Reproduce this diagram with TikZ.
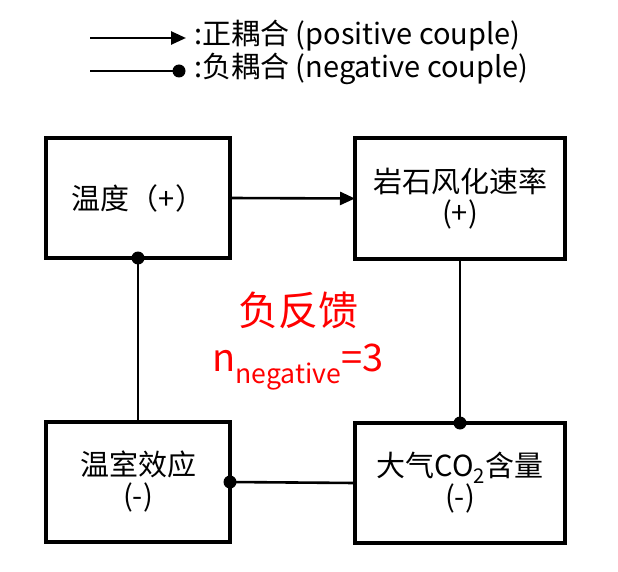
\documentclass[tikz,border=0pt]{standalone}
\usepackage{fontspec}
\setmainfont{Noto Sans CJK SC}
\usepackage{xcolor}
\usepackage{tikz}
\usetikzlibrary{arrows.meta, positioning}
\definecolor{myred}{RGB}{255,0,0}
\tikzset{
  varbox/.style={rectangle, draw=black, line width=4pt, outer sep=0pt,
    minimum width=184pt, minimum height=120pt, align=center,
    font=\fontsize{29}{31}\selectfont},
  widebox/.style={varbox, minimum width=210pt},
  posarrow/.style={line width=2.6pt, -{Triangle[length=15pt,width=13pt]}},
  negline/.style={line width=2.6pt},
  negdot/.style={fill=black},
  legendtext/.style={anchor=west, inner sep=0pt, font=\fontsize{29}{31}\selectfont}
}
\begin{document}
\begin{tikzpicture}[x=1pt, y=-1pt]
  \useasboundingbox (0,0) rectangle (618,572);
  % Legend
  \coordinate (posA) at (90,38);
  \coordinate (posB) at (186,38);
  \coordinate (negA) at (90,71);
  \coordinate (negB) at (179,71);
  \draw[posarrow] (posA) -- (posB);
  \draw[negline] (negA) -- (negB);
  \fill[negdot] (negB) circle (6.5pt);
  \node[legendtext] (poslabel) at (194,36) {:正耦合 (positive couple)};
  \node[legendtext] (neglabel) at (194,69) {:负耦合 (negative couple)};

  % Variables
  \node[varbox] (wendu) at (138,198) {温度（+）};
  \node[widebox] (fenghua) at (460,198.5) {岩石风化速率\\(+)};
  \node[varbox] (wenshi) at (138,482) {温室效应\\(-)};
  \node[widebox] (co2) at (460,483) {大气CO\textsubscript{2}含量\\(-)};

  % Couplings
  \draw[posarrow] (wendu.east) -- (fenghua.west);
  \draw[negline] (wendu.south) -- (wenshi.north);
  \fill[negdot] (wendu.south) circle (6.5pt);
  \draw[negline] (fenghua.south) -- (co2.north);
  \fill[negdot] (co2.north) circle (6.5pt);
  \draw[negline] (wenshi.east) -- (co2.west);
  \fill[negdot] (wenshi.east) circle (6.5pt);

  % Loop type
  \node[myred, font=\fontsize{40}{42}\selectfont] (looptype) at (298,310) {负反馈};
  \node[myred, font=\fontsize{38}{40}\selectfont, below=8pt of looptype] (loopcount)
    {n\textsubscript{negative}=3};
\end{tikzpicture}
\end{document}
